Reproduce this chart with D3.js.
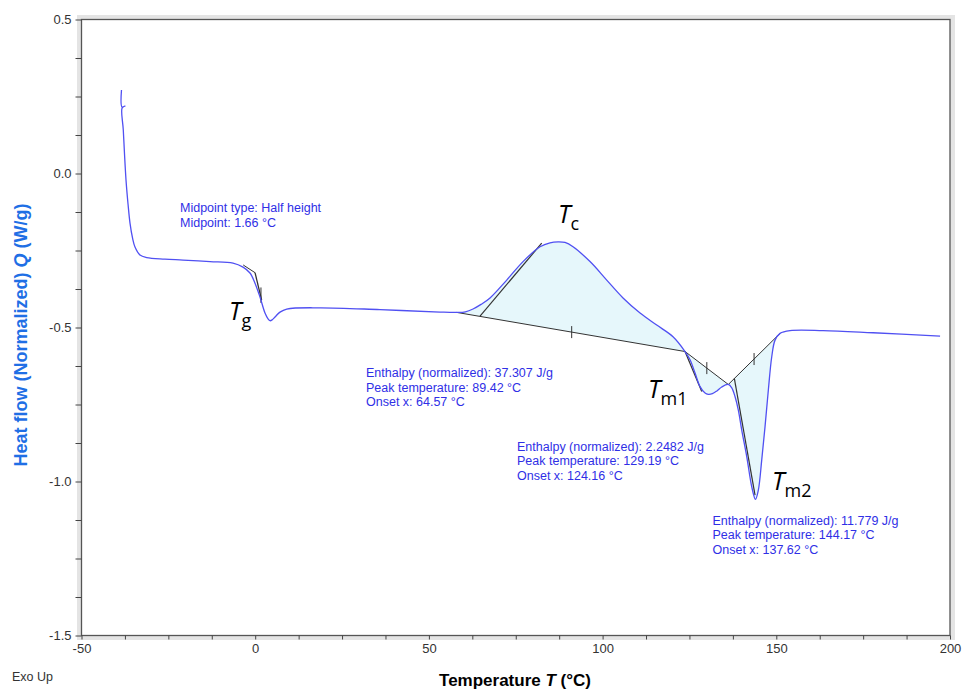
<!DOCTYPE html>
<html>
<head>
<meta charset="utf-8">
<script src="https://cdn.jsdelivr.net/npm/d3@7"></script>
<style>
  body { margin: 0; background: #fff; }
  text { font-family: "Liberation Sans", Arial, sans-serif; }
</style>
</head>
<body>
<svg width="965" height="689"></svg>
<script>
// DSC trace: temperature (°C) and heat flow (W/g)
var temps = [-38.49, -38.34, -37.48, -38.30, -37.97, -37.19, -36.60, -36.04, -35.30, -34.60, -33.16, -31.23,
  -26.0, -20.78, -13.0, -6.39, -3.51, -1.50, -0.06, 1.38, 2.82, 3.70, 4.26, 4.90, 5.70, 7.14, 9.07,
  18.66, 35.93, 53.20, 58.01, 60.5, 62.70, 65.0, 67.60, 72.40, 77.09, 81.99, 84.86, 87.2, 89.18, 91.49,
  96.38, 101.19, 105.88, 110.78, 115.58, 120.27, 123.73, 125.17, 126.61, 128.05, 129.49, 130.40,
  131.6, 132.9, 134.30, 136.19, 137.18, 138.13, 139.07, 140.05, 141.49, 142.93, 144.00, 144.83,
  145.81, 146.76, 147.71, 148.69, 149.64, 151.08, 153.96, 163.46, 177.85, 197.14];
var heatFlow = [0.271, 0.216, 0.219, 0.213, 0.141, -0.021, -0.100, -0.161, -0.210, -0.239, -0.265, -0.273,
  -0.278, -0.281, -0.286, -0.291, -0.304, -0.323, -0.356, -0.401, -0.453, -0.472, -0.478, -0.475, -0.466, -0.450, -0.440,
  -0.436, -0.442, -0.450, -0.451, -0.449, -0.440, -0.425, -0.404, -0.346, -0.286, -0.238, -0.225, -0.222, -0.224, -0.238,
  -0.286, -0.346, -0.404, -0.453, -0.492, -0.530, -0.578, -0.605, -0.648, -0.692, -0.713, -0.717,
  -0.715, -0.706, -0.693, -0.685, -0.696, -0.725, -0.768, -0.833, -0.919, -1.017, -1.058, -1.028,
  -0.930, -0.822, -0.703, -0.595, -0.541, -0.519, -0.510, -0.510, -0.517, -0.528];

// integration baselines (start/end temps and heat flow) with their marker temps
var peakNames = ["Tc", "Tm1", "Tm2"];
var baseT0 = [58.01, 123.73, 136.19];
var baseQ0 = [-0.451, -0.578, -0.685];
var baseT1 = [123.73, 136.19, 151.08];
var baseQ1 = [-0.578, -0.685, -0.519];
var baseTick = [91.1, 130.0, 143.6];

// onset tangents
var tangentT0 = [64.72, 123.73, 137.92];
var tangentQ0 = [-0.463, -0.578, -0.665];
var tangentT1 = [82.48, 128.54, 143.88];
var tangentQ1 = [-0.226, -0.708, -1.044];

// glass transition construction lines
var tgLineT = [-3.45, -0.05, 1.85];
var tgLineQ = [-0.297, -0.322, -0.411];
var tgMidpoint = 1.66;

var xTicks = d3.range(-50, 200.1, 12.5);
var yTicks = d3.range(-1.5, 0.51, 0.125);

var annotations = [
  ["Enthalpy (normalized): 37.307 J/g", "Peak temperature: 89.42 °C", "Onset x: 64.57 °C"],
  ["Enthalpy (normalized): 2.2482 J/g", "Peak temperature: 129.19 °C", "Onset x: 124.16 °C"],
  ["Enthalpy (normalized): 11.779 J/g", "Peak temperature: 144.17 °C", "Onset x: 137.62 °C"]
];
var midpointText = ["Midpoint type: Half height", "Midpoint: 1.66 °C"];

var svg = d3.select("svg");
var x = d3.scaleLinear().domain([-50, 200]).range([81.5, 950]);
var y = d3.scaleLinear().domain([-1.5, 0.5]).range([635.5, 19.5]);

// frame
svg.append("rect").attr("x", 77).attr("y", 15).attr("width", 878).attr("height", 625).attr("fill", "#e4e4e4");
svg.append("rect").attr("x", 81.5).attr("y", 19.5).attr("width", 868.5).attr("height", 616)
  .attr("fill", "#fff").attr("stroke", "#555").attr("stroke-width", 1.3);

var data = temps.map(function(t, i){ return [t, heatFlow[i]]; });
var lineCurve = d3.curveCatmullRom.alpha(0.5);

// shaded peak areas
peakNames.forEach(function(name, k){
  var pts = data.filter(function(d){ return d[0] >= baseT0[k] - 1e-6 && d[0] <= baseT1[k] + 1e-6; });
  var base = d3.scaleLinear().domain([baseT0[k], baseT1[k]]).range([baseQ0[k], baseQ1[k]]);
  svg.append("path").datum(pts)
    .attr("fill", "#e6f7fb")
    .attr("d", d3.area().curve(lineCurve)
      .x(function(d){ return x(d[0]); })
      .y0(function(d){ return y(base(d[0])); })
      .y1(function(d){ return y(d[1]); }));
});

// axes
var yAxis = d3.axisLeft(y).tickValues(yTicks).tickSize(6).tickPadding(4)
  .tickFormat(function(d){ return Math.abs(d * 2 - Math.round(d * 2)) < 1e-9 ? d.toFixed(1) : ""; });
var gy = svg.append("g").attr("transform", "translate(81.5,0)").call(yAxis);
gy.select(".domain").remove();
gy.selectAll("line").attr("stroke", "#444");
gy.selectAll("text").attr("fill", "#333").style("font-size", "13px");

var xAxis = d3.axisBottom(x).tickValues(xTicks).tickSize(4).tickPadding(4)
  .tickFormat(function(d){ return d % 50 === 0 ? String(d) : ""; });
var gx = svg.append("g").attr("transform", "translate(0,635.5)").call(xAxis);
gx.select(".domain").remove();
gx.selectAll("line").attr("stroke", "#444");
gx.selectAll("text").attr("fill", "#333")
  .style("font-family", "'Liberation Sans Narrow','Arial Narrow','Liberation Sans',sans-serif")
  .style("font-size", "13px");

// baselines, tangents
var seg = function(t0, q0, t1, q1, w){
  svg.append("line").attr("x1", x(t0)).attr("y1", y(q0)).attr("x2", x(t1)).attr("y2", y(q1))
    .attr("stroke", "#333").attr("stroke-width", w || 1);
};
peakNames.forEach(function(name, k){
  seg(baseT0[k], baseQ0[k], baseT1[k], baseQ1[k]);
  var base = d3.scaleLinear().domain([baseT0[k], baseT1[k]]).range([baseQ0[k], baseQ1[k]]);
  var yy = y(base(baseTick[k]));
  svg.append("line").attr("x1", x(baseTick[k])).attr("x2", x(baseTick[k]))
    .attr("y1", yy - 6).attr("y2", yy + 6).attr("stroke", "#333");
  seg(tangentT0[k], tangentQ0[k], tangentT1[k], tangentQ1[k], 1.2);
});
seg(tgLineT[0], tgLineQ[0], tgLineT[1], tgLineQ[1]);
seg(tgLineT[1], tgLineQ[1], tgLineT[2], tgLineQ[2], 1.3);
svg.append("line").attr("x1", x(tgMidpoint)).attr("x2", x(tgMidpoint))
  .attr("y1", y(-0.37)).attr("y2", y(-0.42)).attr("stroke", "#333");

// the trace
svg.append("path").datum(data)
  .attr("fill", "none").attr("stroke", "#5050f2").attr("stroke-width", 1.3)
  .attr("d", d3.line().curve(lineCurve).x(function(d){ return x(d[0]); }).y(function(d){ return y(d[1]); }));

// blue annotation text
var blue = "#2f2fe6";
var blockPos = [[366, 377], [517, 450.5], [712.5, 524.5]];
annotations.forEach(function(lines, k){
  var t = svg.append("text").attr("x", blockPos[k][0]).attr("y", blockPos[k][1])
    .attr("fill", blue).style("font-size", "12.5px");
  lines.forEach(function(s, i){
    t.append("tspan").attr("x", blockPos[k][0]).attr("dy", i ? 14.5 : 0).text(s);
  });
});
var mt = svg.append("text").attr("x", 180).attr("y", 212).attr("fill", blue).style("font-size", "12.5px");
midpointText.forEach(function(s, i){
  mt.append("tspan").attr("x", 180).attr("dy", i ? 15 : 0).text(s);
});

// T labels
var tLabels = [["g", 229, 320], ["c", 558, 223], ["m1", 648, 398], ["m2", 772, 490]];
tLabels.forEach(function(l){
  var t = svg.append("text").attr("x", l[1]).attr("y", l[2]).attr("fill", "#000")
    .style("font-family", "'Open Sans','Noto Sans',sans-serif");
  t.append("tspan").style("font-style", "italic").style("font-size", "25px").text("T");
  t.append("tspan").attr("dy", 7).style("font-size", "18px").text(l[0]);
});

// axis titles
var yt = svg.append("text").attr("transform", "translate(27,335) rotate(-90)")
  .attr("text-anchor", "middle").attr("fill", "#1f6fe5")
  .style("font-weight", "bold").style("font-size", "18px");
yt.append("tspan").text("Heat flow (Normalized) ");
yt.append("tspan").style("font-style", "italic").text("Q");
yt.append("tspan").text(" (W/g)");

var xt = svg.append("text").attr("x", 515).attr("y", 686).attr("text-anchor", "middle")
  .attr("fill", "#000").style("font-weight", "bold").style("font-size", "17px");
xt.append("tspan").text("Temperature ");
xt.append("tspan").style("font-style", "italic").text("T");
xt.append("tspan").text(" (°C)");

svg.append("text").attr("x", 12).attr("y", 681).attr("fill", "#333")
  .style("font-family", "'Liberation Sans Narrow','Arial Narrow','Liberation Sans',sans-serif")
  .style("font-size", "12.5px").text("Exo Up");
</script>
</body>
</html>
